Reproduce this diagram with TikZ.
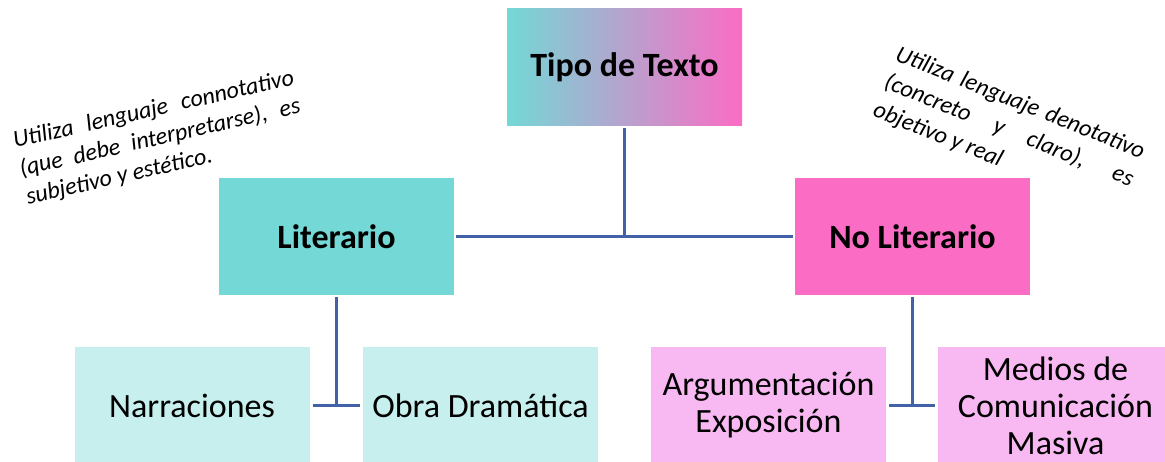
\documentclass[tikz,border=0pt]{standalone}
\usepackage{fontspec}
\setmainfont{Carlito}
\definecolor{teal1}{HTML}{73D8D6}
\definecolor{pink1}{HTML}{FB6CC5}
\definecolor{tealL}{HTML}{C6EFEE}
\definecolor{pinkL}{HTML}{F8B8F1}
\definecolor{linec}{HTML}{4161A9}
\begin{document}
\begin{tikzpicture}[x=1pt,y=-1pt,
  box/.style={rectangle, minimum width=235pt, minimum height=117pt, inner sep=0pt, align=center, font=\fontsize{34}{37}\selectfont},
  topbox/.style={box, font=\fontsize{34}{37}\selectfont\bfseries},
  conn/.style={draw=linec, line width=2.8pt},
  noteline/.style={inner sep=0pt, font=\fontsize{24}{28}\selectfont\itshape, anchor=base west}
]
\useasboundingbox (0,0) rectangle (1165,462);
\begin{scope}
\clip (0,0) rectangle (1165,462);
\node[topbox, left color=teal1, right color=pink1] (tipo) at (624.5,67.5) {Tipo de Texto};
\node[topbox, fill=teal1] (lit) at (336.5,236.5) {Literario};
\node[topbox, fill=pink1] (nolit) at (912.5,236.5) {No Literario};
\node[box, fill=tealL] (narr) at (192,405.5) {Narraciones};
\node[box, fill=tealL] (obra) at (480.5,405.5) {Obra Dramática};
\node[box, fill=pinkL] (arg) at (768.5,405.5) {Argumentación\\Exposición};
\node[box, fill=pinkL] (med) at (1055.5,405.5) {Medios de\\Comunicación\\Masiva};
\end{scope}
\coordinate (j1) at (tipo.south |- lit.east);
\coordinate (j2) at (lit.south |- narr.east);
\coordinate (j3) at (nolit.south |- arg.east);
\draw[conn, shorten <=2pt] (tipo.south) -- (j1);
\draw[conn, shorten <=2pt, shorten >=2pt] (lit.east) -- (nolit.west);
\draw[conn, shorten <=2pt] (lit.south) -- (j2);
\draw[conn, shorten <=3pt, shorten >=3pt] (narr.east) -- (obra.west);
\draw[conn, shorten <=2pt] (nolit.south) -- (j3);
\draw[conn, shorten <=3pt, shorten >=3pt] (arg.east) -- (med.west);
\begin{scope}[shift={(15,148)}, rotate=12.8, transform shape]
\node[noteline] (nl1) at (0,0) {\makebox[287pt][s]{Utiliza lenguaje connotativo}};
\node[noteline] (nl2) at (0,29) {\makebox[287pt][s]{(que debe interpretarse), es}};
\node[noteline] (nl3) at (0,58) {subjetivo y estético.};
\end{scope}
\begin{scope}[shift={(894,60)}, rotate=-21.8, transform shape]
\node[noteline] (nr1) at (0,0) {\makebox[266pt][s]{Utiliza lenguaje denotativo}};
\node[noteline] (nr2) at (0,30) {\makebox[266pt][s]{(concreto y claro), es}};
\node[noteline] (nr3) at (0,60) {objetivo y real};
\end{scope}
\end{tikzpicture}
\end{document}
